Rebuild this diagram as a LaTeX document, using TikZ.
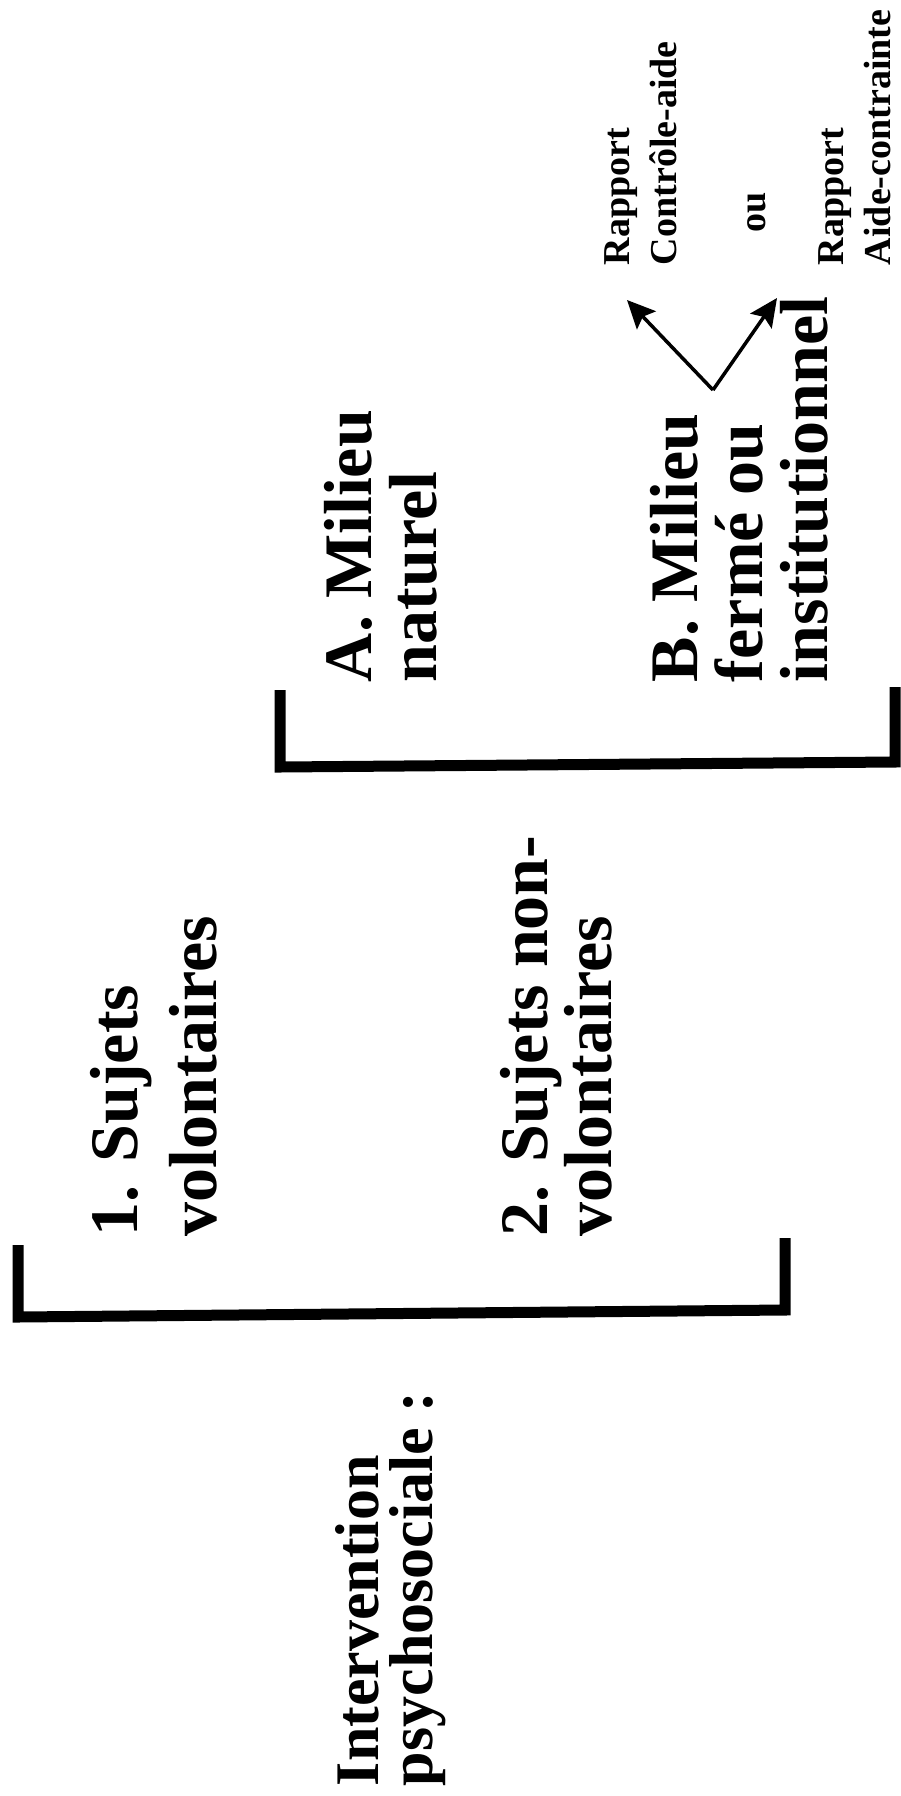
\documentclass[tikz,border=0pt]{standalone}
\usepackage{fontspec}
\setmainfont{Liberation Serif}
\usetikzlibrary{arrows.meta,positioning}
\tikzset{
    >={Stealth[length=28pt,width=26pt,inset=5pt]},
    main label/.style={rotate=90,anchor=north west,align=left,inner sep=0pt,outer sep=0pt,font=\fontsize{62}{54}\selectfont\bfseries},
    group label/.style={rotate=90,anchor=north west,align=left,inner sep=0pt,outer sep=0pt,font=\fontsize{68}{#1}\selectfont\bfseries},
    group label/.default=79,
    milieu label/.style={rotate=90,anchor=north west,align=left,inner sep=0pt,outer sep=0pt,font=\fontsize{68}{65}\selectfont\bfseries},
    small label/.style={rotate=90,anchor=north west,align=left,inner sep=0pt,outer sep=0pt,font=\fontsize{38}{47}\selectfont\bfseries},
    bracket/.style={line width=11pt,line join=miter},
    choice/.style={->,line width=3.5pt}
}
\begin{document}
\begin{tikzpicture}[x=1pt,y=-1pt]
    \useasboundingbox[fill=white] (0,0) rectangle (901,1796);
    % text blocks
    \node[main label] (intervention) at (335,1786) {Intervention\\psychosociale :};
    \node[group label] (volontaires) at (90,1236) {1. Sujets\\volontaires};
    \node[group label=64] (nonvolontaires) at (500,1236) {2. Sujets non-\\volontaires};
    \node[milieu label] (naturel) at (324,682) {A. Milieu\\naturel};
    \node[milieu label] (ferme) at (650,682) {B. Milieu\\fermé ou\\institutionnel};
    \node[small label] (controle) at (605,265) {Rapport\\Contrôle-aide};
    \node[small label] (contrainte) at (819,265) {Rapport\\Aide-contrainte};
    \node[small label,anchor=center] (ou) at (757,212) {ou};
    % brackets
    \draw[bracket] (18,1245) -- (18,1317) -- (785,1310) -- (785,1238);
    \draw[bracket] (280,690) -- (280,767) -- (895,762) -- (895,687);
    % arrows
    \coordinate (fork) at (713,390);
    \coordinate (tipCA) at (627,300);
    \coordinate (tipAC) at (777,298);
    \draw[choice] (fork) -- (tipCA);
    \draw[choice] (fork) -- (tipAC);
\end{tikzpicture}
\end{document}
